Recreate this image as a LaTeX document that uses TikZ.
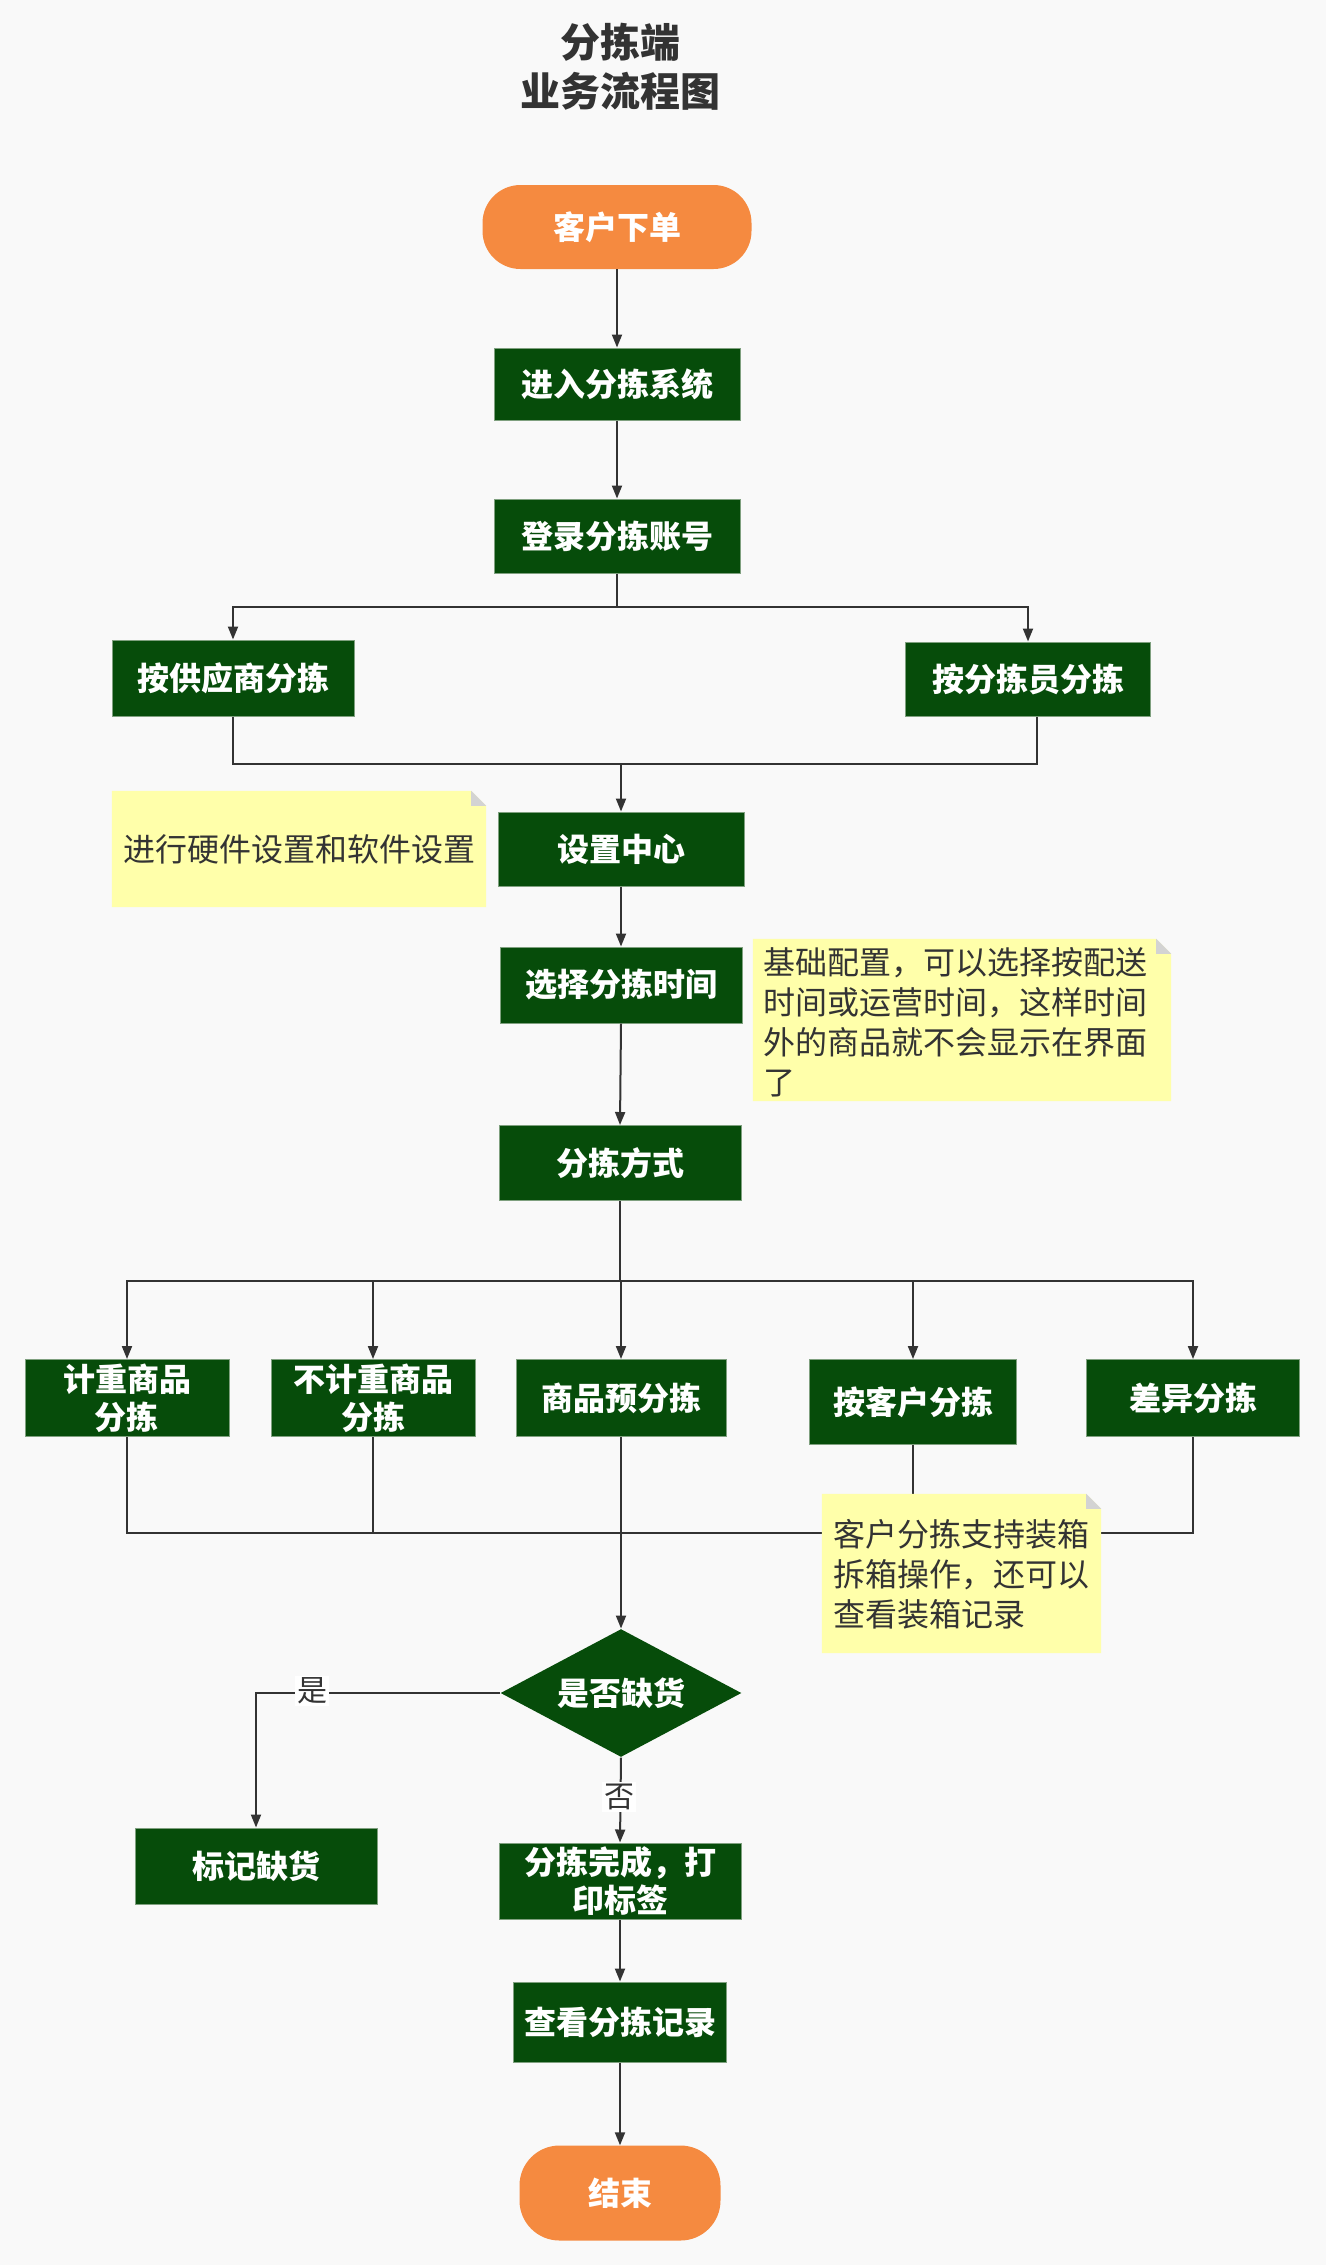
\documentclass[tikz,border=0pt]{standalone}
\usepackage{fontspec}
\newfontfamily\cjk{Noto Sans CJK SC}
\usetikzlibrary{arrows.meta,shapes.geometric}
\definecolor{bgc}{HTML}{F9F9F9}
\definecolor{gfill}{HTML}{064C0A}
\definecolor{gline}{HTML}{7FA07F}
\definecolor{ofill}{HTML}{F58A40}
\definecolor{nfill}{HTML}{FFFFAA}
\definecolor{foldc}{HTML}{D3D3D3}
\definecolor{inkc}{HTML}{333333}
\begin{document}
\begin{tikzpicture}[x=1pt,y=-1pt,
  gbox/.style={rectangle, fill=gfill, draw=gline, line width=1pt, text=white,
    font=\cjk\bfseries\fontsize{32}{38}\selectfont, align=center, inner sep=0pt},
  term/.style={rectangle, fill=ofill, text=white,
    font=\cjk\bfseries\fontsize{32}{38}\selectfont, inner sep=0pt},
  notebox/.style={rectangle, inner sep=0pt},
  notetext/.style={text=inkc, font=\cjk\fontsize{32}{40}\selectfont, align=left, inner sep=0pt, anchor=west},
  lbl/.style={fill=white, text=inkc, font=\cjk\fontsize{30}{34}\selectfont, inner sep=2pt},
  conn/.style={draw=inkc, line width=2pt},
  conna/.style={conn, -{Triangle[length=13pt,width=10pt]}},
  notefill/.style={fill=nfill},
]
\fill[bgc] (0,0) rectangle (1326,2265);
\useasboundingbox (0,0) rectangle (1326,2265);

% title
\node[text=inkc, font=\cjk\bfseries\fontsize{40}{49}\selectfont, align=center, inner sep=0pt] (title) at (620,67) {分拣端\\业务流程图};

% main nodes
\node[term, rounded corners=38pt, minimum width=269pt, minimum height=84pt] (start) at (617,227) {客户下单};
\node[gbox, minimum width=246pt, minimum height=72pt] (sys) at (617,384) {进入分拣系统};
\node[gbox, minimum width=246pt, minimum height=74pt] (login) at (617,536) {登录分拣账号};
\node[gbox, minimum width=242pt, minimum height=76pt] (supp) at (233,678) {按供应商分拣};
\node[gbox, minimum width=245pt, minimum height=74pt] (picker) at (1028,679) {按分拣员分拣};
\node[gbox, minimum width=246pt, minimum height=74pt] (setc) at (621,849) {设置中心};
\node[gbox, minimum width=242pt, minimum height=76pt] (seltime) at (621,985) {选择分拣时间};
\node[gbox, minimum width=242pt, minimum height=75pt] (mode) at (620,1163) {分拣方式};
\node[gbox, minimum width=204pt, minimum height=77pt] (c1) at (127,1398) {计重商品\\分拣};
\node[gbox, minimum width=204pt, minimum height=77pt] (c2) at (373,1398) {不计重商品\\分拣};
\node[gbox, minimum width=210pt, minimum height=77pt] (c3) at (621,1398) {商品预分拣};
\node[gbox, minimum width=207pt, minimum height=85pt] (c4) at (913,1402) {按客户分拣};
\node[gbox, minimum width=213pt, minimum height=77pt] (c5) at (1193,1398) {差异分拣};
\node[gbox, diamond, shape aspect=1.88, minimum width=241pt, minimum height=128pt, draw=none] (dia) at (621,1693) {是否缺货};
\node[gbox, minimum width=242pt, minimum height=76pt] (mark) at (256,1866) {标记缺货};
\node[gbox, minimum width=242pt, minimum height=76pt] (done) at (620,1881) {分拣完成，打\\印标签};
\node[gbox, minimum width=213pt, minimum height=80pt] (rec) at (620,2022) {查看分拣记录};
\node[term, rounded corners=40pt, minimum width=201pt, minimum height=95pt] (end) at (620,2193) {结束};

% note frames
\node[notebox, minimum width=374pt, minimum height=116pt] (n1) at (299,849) {};
\node[notebox, minimum width=418pt, minimum height=162pt] (n2) at (962,1020) {};
\node[notebox, minimum width=279pt, minimum height=159pt] (n3) at (961.5,1573.5) {};

% junction coordinates
\coordinate (b1) at (617,607);
\coordinate (m1) at (621,764);
\coordinate (b2) at (620,1281);
\coordinate (m2) at (621,1533);

% connectors
\draw[conna] (start.south) -- (sys.north);
\draw[conna] (sys.south) -- (login.north);
\draw[conn] (login.south) -- (b1);
\draw[conna] (b1) -| (supp.north);
\draw[conna] (b1) -| (picker.north);
\draw[conn] (supp.south) |- (m1);
\draw[conn] ([xshift=9pt]picker.south) |- (m1);
\draw[conna] (m1) -- (setc.north);
\draw[conna] (setc.south) -- (seltime.north);
\draw[conna] (seltime.south) -- (mode.north);
\draw[conn] (mode.south) -- (b2);
\draw[conna] (b2) -| (c1.north);
\draw[conna] (b2) -| (c2.north);
\draw[conna] (b2) -| (c3.north);
\draw[conna] (b2) -| (c4.north);
\draw[conna] (b2) -| (c5.north);
\draw[conn] (c1.south) |- (m2);
\draw[conn] (c2.south) |- (m2);
\draw[conn] (c3.south) -- (m2);
\draw[conn] (c4.south) |- (m2);
\draw[conn] (c5.south) |- (m2);
\draw[conna] (m2) -- (dia.north);
\draw[conna] (dia.west) -| (mark.north);
\draw[conna] (dia.south) -- (done.north);
\draw[conna] (done.south) -- (rec.north);
\draw[conna] (rec.south) -- (end.north);

% edge labels
\node[lbl] (yes) at (312,1691) {是};
\node[lbl] (no) at (619,1797) {否};

% notes
\foreach \n in {n1,n2,n3}{
  \fill[notefill] (\n.north west) -- ([xshift=-15pt]\n.north east) -- ([yshift=-15pt]\n.north east) -- (\n.south east) -- (\n.south west) -- cycle;
  \fill[foldc] ([xshift=-15pt]\n.north east) -- ([xshift=-15pt,yshift=-15pt]\n.north east) -- ([yshift=-15pt]\n.north east) -- cycle;
}
\node[notetext] (n1t) at (123,849) {进行硬件设置和软件设置};
\node[notetext] (n2t) at (763,1022) {基础配置，可以选择按配送\\时间或运营时间，这样时间\\外的商品就不会显示在界面\\了};
\node[notetext] (n3t) at (833,1574) {客户分拣支持装箱\\拆箱操作，还可以\\查看装箱记录};
\end{tikzpicture}
\end{document}
